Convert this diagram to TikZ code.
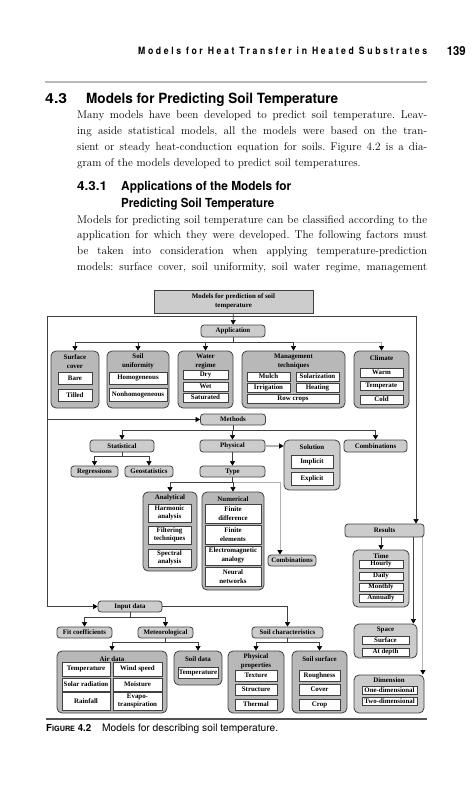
\documentclass[tikz,border=0pt]{standalone}
\usepackage{fontspec}
\usetikzlibrary{arrows.meta}
\newfontfamily\figfont{Liberation Serif}
\newfontfamily\headfont{TeX Gyre Heros}
\newfontfamily\runfont[LetterSpace=30]{TeX Gyre Heros}
\definecolor{pillgray}{gray}{0.80}
\definecolor{groupgray}{gray}{0.72}
\definecolor{linegray}{gray}{0.25}
\definecolor{lightgray}{gray}{0.70}
\newcommand{\bodyline}[1]{\makebox[350pt][s]{#1}}
\frenchspacing
\tikzset{
  sz/.style 2 args={minimum width=#1pt, minimum height=#2pt},
  fig/.style={font=\figfont\bfseries\fontsize{6.9}{8.5}\selectfont, align=center, inner sep=0pt},
  topbox/.style={fig, draw=linegray, fill=pillgray, line width=0.8pt},
  pill/.style={fig, draw=linegray, fill=pillgray, line width=0.8pt, rounded corners=3pt},
  group/.style={fig, draw=linegray, fill=groupgray, line width=0.8pt, rounded corners=5pt},
  item/.style={fig, draw=linegray, fill=white, line width=0.6pt},
  ttl/.style={fig},
  wire/.style={draw=linegray, line width=0.6pt},
  link/.style={wire, -{Triangle[width=5pt,length=4.5pt,color=black]}},
  linkl/.style={link, draw=lightgray, line width=1pt},
  txt/.style={inner sep=0pt, anchor=base west},
}
\begin{document}
\begin{tikzpicture}[x=1pt, y=-1pt]
    \useasboundingbox[fill=white] (0,0) rectangle (471,800);

    % Running head.
    \node[txt] (runhead) at (138,55) {\resizebox{289pt}{7.5pt}{\runfont\bfseries Models for Heat Transfer in Heated Substrates}};
    \node[txt, anchor=base east] (pagenum) at (466,56) {\resizebox{19pt}{9pt}{\headfont\bfseries 139}};
    \draw[gray!55, line width=2pt] (45,82) -- (427,82);

    % Section headings.
    \node[txt] (secnum) at (45,103) {\resizebox{22pt}{10pt}{\headfont\bfseries 4.3}};
    \node[txt] (sectitle) at (86,103) {\resizebox{252pt}{10.5pt}{\headfont\bfseries Models for Predicting Soil Temperature}};
    \node[txt] (subnum) at (77,190) {\resizebox{30pt}{9pt}{\headfont\bfseries 4.3.1}};
    \node[txt] (subtitleA) at (121,190) {\resizebox{170pt}{9.3pt}{\headfont\bfseries Applications of the Models for}};
    \node[txt] (subtitleB) at (121,207) {\resizebox{153pt}{9.3pt}{\headfont\bfseries Predicting Soil Temperature}};

    % Body text.
    \begin{scope}[every node/.style={txt, font=\fontsize{11.2}{16}\selectfont}]
        \node (parA1) at (77,118) {\bodyline{Many models have been developed to predict soil temperature. Leav-}};
        \node (parA2) at (77,134.5) {\bodyline{ing aside statistical models, all the models were based on the tran-}};
        \node (parA3) at (77,150.5) {\bodyline{sient or steady heat-conduction equation for soils. Figure 4.2 is a dia-}};
        \node (parA4) at (77,166) {gram of the models developed to predict soil temperatures.};
        \node (parB1) at (77,223) {\bodyline{Models for predicting soil temperature can be classified according to the}};
        \node (parB2) at (77,238.5) {\bodyline{application for which they were developed. The following factors must}};
        \node (parB3) at (77,254) {\bodyline{be taken into consideration when applying temperature-prediction}};
        \node (parB4) at (77,270) {\bodyline{models: surface cover, soil uniformity, soil water regime, management}};
    \end{scope}

    % Top and application.
    \node[topbox, sz={159}{23}] (topb) at (233.5,301.5) {Models for prediction of soil\\temperature};
    \node[pill, sz={64}{12}] (appl) at (233,331) {Application};

    % Application groups.
    \node[group, sz={48}{57}] (surf) at (75,379.5) {};
    \node[ttl] (surfT) at (75,361.5) {Surface\\cover};
    \node[item, sz={34}{12}] (bare) at (75,378) {Bare};
    \node[item, sz={34}{12}] (tilled) at (75,395) {Tilled};

    \node[group, sz={62}{57}] (unif) at (138,379.5) {};
    \node[ttl] (unifT) at (138,361.5) {Soil\\uniformity};
    \node[item, sz={58}{12}] (homog) at (138,378) {Homogeneous};
    \node[item, sz={58}{13}] (nonhom) at (138,395) {Nonhomogeneous};

    \node[group, sz={55}{57}] (water) at (205.5,379.5) {};
    \node[ttl] (waterT) at (205.5,361.5) {Water\\regime};
    \node[item, sz={45}{9}] (dry) at (205.5,374.5) {Dry};
    \node[item, sz={45}{9}] (wet) at (205.5,386.5) {Wet};
    \node[item, sz={45}{9}] (sat) at (205.5,397.5) {Saturated};

    \node[group, sz={103}{57}] (mgmt) at (293.5,379.5) {};
    \node[ttl] (mgmtT) at (293.5,361.5) {Management\\techniques};
    \node[item, sz={43}{9}] (mulch) at (268.5,376.5) {Mulch};
    \node[item, sz={43}{9}] (solar) at (317.5,376.5) {Solarization};
    \node[item, sz={43}{9}] (irrig) at (268.5,387.5) {Irrigation};
    \node[item, sz={43}{9}] (heat) at (317.5,387.5) {Heating};
    \node[item, sz={92}{9}] (rowc) at (293,398.5) {Row crops};

    \node[group, sz={55}{57}] (clim) at (381.5,379.5) {};
    \node[ttl] (climT) at (381.5,358) {Climate};
    \node[item, sz={43}{9}] (warm) at (381.5,372.5) {Warm};
    \node[item, sz={43}{9}] (tempr) at (381.5,385.5) {Temperate};
    \node[item, sz={43}{9}] (cold) at (381.5,399.5) {Cold};

    % Methods.
    \node[pill, sz={65}{11}] (meth) at (233,419.5) {Methods};
    \node[pill, sz={64}{12}] (stat) at (122,446) {Statistical};
    \node[pill, sz={65}{12}] (phys) at (232.5,446) {Physical};
    \node[pill, sz={63}{12}] (combA) at (375.5,446) {Combinations};
    \node[pill, sz={47}{11}] (regr) at (94.5,471.5) {Regressions};
    \node[pill, sz={48}{11}] (geost) at (149,471.5) {Geostatistics};
    \node[pill, sz={65}{11}] (type) at (232.5,471.5) {Type};

    \node[group, fill=pillgray, sz={56}{50}] (sol) at (312,465) {};
    \node[ttl] (solT) at (312,447) {Solution};
    \node[item, sz={42}{13}] (impl) at (312,461.5) {Implicit};
    \node[item, sz={42}{13}] (expl) at (312,478.5) {Explicit};

    \node[group, sz={54}{79}] (anal) at (170,531.5) {};
    \node[ttl] (analT) at (170,497.5) {Analytical};
    \node[item, sz={43}{18}] (harm) at (169.5,513) {Harmonic\\analysis};
    \node[item, sz={43}{18}] (filt) at (169.5,535) {Filtering\\techniques};
    \node[item, sz={43}{18}] (spec) at (169.5,558) {Spectral\\analysis};

    \node[group, sz={62}{98}] (num) at (233,541) {};
    \node[ttl] (numT) at (233,499) {Numerical};
    \node[item, sz={56}{19}] (fdiff) at (233,513.5) {Finite\\difference};
    \node[item, sz={56}{19}] (felem) at (233,534.5) {Finite\\elements};
    \node[item, sz={56}{19}] (emag) at (233,555.5) {Electromagnetic\\analogy};
    \node[item, sz={56}{19}] (neur) at (233,576.5) {Neural\\networks};

    \node[pill, sz={48}{11}] (combB) at (292,560.5) {Combinations};

    % Results.
    \node[pill, sz={79}{13}] (res) at (384.5,530.5) {Results};
    \node[group, fill=pillgray, sz={56}{57}] (time) at (381,578.5) {};
    \node[ttl] (timeT) at (381,556) {Time};
    \node[item, sz={44}{8}] (hourly) at (381,564) {Hourly};
    \node[item, sz={44}{8}] (daily) at (381,576) {Daily};
    \node[item, sz={44}{8}] (monthly) at (381,587) {Monthly};
    \node[item, sz={44}{8}] (annual) at (381,598) {Annually};

    \node[group, fill=pillgray, sz={63}{34}] (space) at (385.5,641) {};
    \node[ttl] (spaceT) at (385.5,630) {Space};
    \node[item, sz={47}{8}] (surfc) at (385.5,640) {Surface};
    \node[item, sz={47}{8}] (depth) at (385.5,652) {At depth};

    \node[group, fill=pillgray, sz={70}{38}] (dimen) at (389,694) {};
    \node[ttl] (dimenT) at (389,680.5) {Dimension};
    \node[item, sz={55}{8}] (oned) at (389.5,690) {One-dimensional};
    \node[item, sz={55}{8}] (twod) at (389.5,701) {Two-dimensional};

    % Input data.
    \node[pill, sz={64}{11}] (inp) at (130,606.5) {Input data};
    \node[pill, sz={55}{11}] (fitc) at (84.5,632.5) {Fit coefficients};
    \node[pill, sz={55}{11}] (meteo) at (165.5,632.5) {Meteorological};
    \node[pill, sz={71}{11}] (soilc) at (287.5,632.5) {Soil characteristics};

    \node[group, sz={110}{62}] (air) at (112,682) {};
    \node[ttl] (airT) at (112,659) {Air data};
    \node[item, sz={48}{14}] (atemp) at (86,669) {Temperature};
    \node[item, sz={49}{14}] (wind) at (137.5,669) {Wind speed};
    \node[item, sz={48}{13}] (srad) at (86,684.5) {Solar radiation};
    \node[item, sz={49}{13}] (moist) at (137.5,684.5) {Moisture};
    \node[item, sz={48}{18}] (rain) at (86,701) {Rainfall};
    \node[item, sz={49}{18}] (evap) at (137.5,701) {Evapo-\\transpiration};

    \node[group, sz={48}{34}] (sdata) at (198,668) {};
    \node[ttl] (sdataT) at (198,659) {Soil data};
    \node[item, sz={40}{11}] (stemp) at (198,672.5) {Temperature};

    \node[group, sz={56}{62}] (phyp) at (256,682) {};
    \node[ttl] (phypT) at (256,661.5) {Physical\\properties};
    \node[item, sz={42}{11}] (textr) at (256,675.5) {Texture};
    \node[item, sz={42}{11}] (struc) at (256,689.5) {Structure};
    \node[item, sz={42}{11}] (therm) at (256,704.5) {Thermal};

    \node[group, sz={55}{62}] (ssurf) at (319.5,682) {};
    \node[ttl] (ssurfT) at (319.5,659) {Soil surface};
    \node[item, sz={41}{11}] (rough) at (319.5,675.5) {Roughness};
    \node[item, sz={41}{11}] (cover) at (319.5,689.5) {Cover};
    \node[item, sz={41}{11}] (crop) at (319.5,704.5) {Crop};

    % Frame connections.
    \coordinate (frameL) at (47,316);
    \coordinate (frameR) at (416,316);
    \draw[wire] (frameL) -- (frameR);
    \draw[link] (topb) -- (appl);
    \draw[link] (frameL) |- (inp.west);
    \draw[link] (frameL |- meth.west) -- (meth.west);
    \draw[link] (frameR) -- (frameR |- res.north);

    % Application connections.
    \draw[linkl] (appl.south) -- ++(0,5) -| (clim.north);
    \foreach \dest in {surf,unif,water,mgmt}
        \draw[link] (appl.south) -- ++(0,5) -| (\dest.north);

    % Methods connections.
    \foreach \dest in {stat,phys,combA}
        \draw[link] (meth.south) -- ++(0,5) -| (\dest.north);
    \foreach \dest in {regr,geost}
        \draw[link] (stat.south) -- ++(0,4) -| (\dest.north);
    \draw[link] (phys) -- (type);
    \draw[linkl, line width=1.5pt] (phys.east) -- (phys.east -| sol.west);
    \draw[linkl] (type.south) -- ++(0,5) -| ([xshift=-12pt]combB.north);
    \foreach \dest in {anal,num}
        \draw[link] (type.south) -- ++(0,5) -| (\dest.north);

    % Results connections.
    \draw[link] (time.north |- res.south) -- (time.north);
    \draw[link] ([xshift=-11pt]res.south east) -- ([xshift=-11pt]res.south east |- space.north);
    \draw[linkl] ([xshift=-1.5pt]res.south east) -- ([xshift=-1.5pt]res.south east |- dimen.north);

    % Input connections.
    \draw[link] (inp.east) -| (soilc.north);
    \foreach \dest in {fitc,meteo}
        \draw[link] (inp.south) -- ++(0,5) -| (\dest.north);
    \foreach \dest in {air,sdata}
        \draw[link] (meteo.south) -- ++(0,4) -| (\dest.north);
    \foreach \dest in {phyp,ssurf}
        \draw[link] (soilc.south) -- ++(0,4) -| (\dest.north);

    % Caption.
    \draw[gray!65!black, line width=1.2pt] (46,719) -- (427,719);
    \node[txt] (figlabel) at (46,731) {\resizebox{45pt}{!}{\headfont\bfseries F{\fontsize{7.5}{8}\selectfont IGURE} 4.2}};
    \node[txt] (figcaption) at (102,731) {\resizebox{176pt}{!}{\headfont Models for describing soil temperature.}};
\end{tikzpicture}
\end{document}
